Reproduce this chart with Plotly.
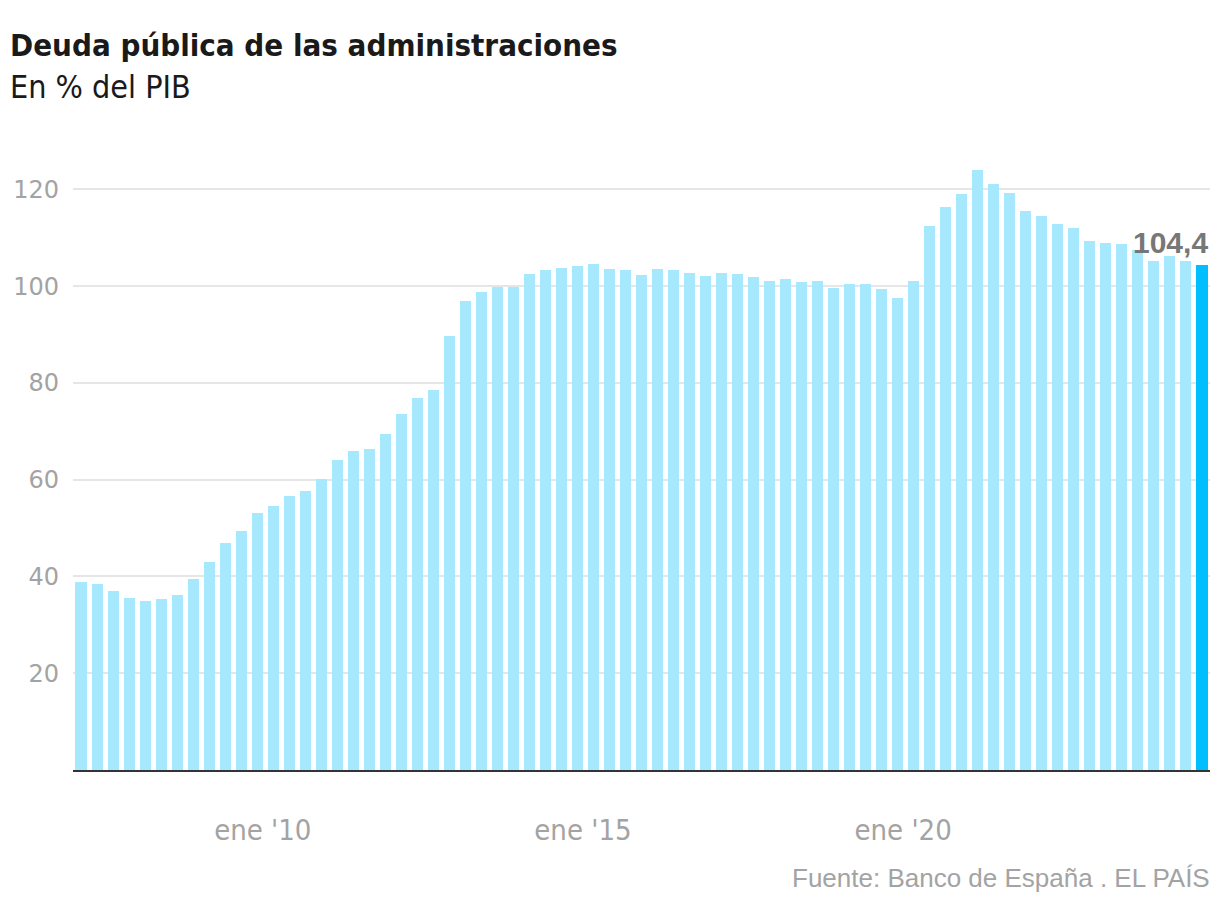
import plotly.graph_objects as go
import pandas as pd

# ---- data ----
start_quarter = "2007-03-01"
n_quarters = 71
debt_pct = [
    38.9, 38.5, 37.0, 35.6,
    35.0, 35.4, 36.2, 39.5,
    43.0, 47.0, 49.4, 53.2,
    54.6, 56.7, 57.7, 60.2,
    64.1, 66.0, 66.4, 69.5,
    73.6, 76.9, 78.6, 89.6,
    97.0, 98.7, 99.9, 99.9,
    102.6, 103.4, 103.8, 104.2,
    104.5, 103.6, 103.4, 102.4,
    103.6, 103.4, 102.8, 102.0,
    102.8, 102.6, 101.8, 101.1,
    101.5, 100.9, 101.1, 99.7,
    100.5, 100.5, 99.5, 97.6,
    101.1, 112.5, 116.4, 119.1,
    124.1, 121.2, 119.3, 115.6,
    114.6, 112.9, 112.1, 109.4,
    109.0, 108.8, 107.5, 105.1,
    106.3, 105.3, 104.4,
]
x_tick_dates = ["2010-01-01", "2015-01-01", "2020-01-01"]
x_tick_text = ["ene '10", "ene '15", "ene '20"]
y_tick_vals = [20, 40, 60, 80, 100, 120]

title_text = "Deuda pública de las administraciones"
subtitle_text = "En % del PIB"
source_text = "Fuente: Banco de España . EL PAÍS"

# ---- build ----
dates = pd.date_range(start_quarter, periods=n_quarters, freq="QS-MAR")
quarter_ms = 91.3 * 86400000
bar_width = quarter_ms * 0.69

light = "#a6e8fd"
strong = "#00bfff"
colors = [light] * (len(debt_pct) - 1) + [strong]

fig = go.Figure()
fig.add_trace(go.Bar(
    x=dates, y=debt_pct, marker=dict(color=colors, line=dict(width=0)),
    width=[bar_width] * len(debt_pct), hoverinfo="x+y",
))

half_q = pd.Timedelta(days=45.65)
x_range = [dates[0] - half_q, dates[-1] + half_q]

narrow = "DejaVu Sans Condensed, Liberation Sans Narrow, sans-serif"

fig.update_layout(
    width=1220, height=906,
    margin=dict(l=73, r=10, t=141, b=136),
    paper_bgcolor="white", plot_bgcolor="white",
    showlegend=False,
    bargap=0,
    xaxis=dict(
        type="date", range=x_range,
        tickvals=x_tick_dates, ticktext=x_tick_text,
        showgrid=False, zeroline=False,
        showline=True, linecolor="#333333", linewidth=2,
        ticks="", ticklabelstandoff=33,
        tickfont=dict(family=narrow, size=29, color="#a3a3a3"),
    ),
    yaxis=dict(
        range=[0, 130], tickvals=y_tick_vals,
        showgrid=True, gridcolor="#e6e6e6", gridwidth=2,
        zeroline=False, showline=False, ticks="",
        ticklabelstandoff=13,
        tickfont=dict(family="DejaVu Sans", size=24, color="#a3a3a3"),
    ),
)

last_label = f"{debt_pct[-1]:.1f}".replace(".", ",")
fig.add_annotation(
    x=dates[-1], y=debt_pct[-1], text=f"<b>{last_label}</b>",
    showarrow=False, xanchor="right", yanchor="bottom",
    xshift=8, yshift=4,
    font=dict(family="Liberation Sans, Arial, sans-serif", size=30, color="#777777"),
)

def py(p):
    return (770 - p) / 629.0

def px(p):
    return (p - 73) / 1137.0

fig.add_annotation(
    xref="paper", yref="paper", x=px(8), y=py(45), xanchor="left", yanchor="middle",
    text=f"<b>{title_text}</b>", showarrow=False,
    font=dict(family=narrow, size=31, color="#1a1a1a"),
)
fig.add_annotation(
    xref="paper", yref="paper", x=px(8), y=py(87), xanchor="left", yanchor="middle",
    text=subtitle_text, showarrow=False,
    font=dict(family=narrow, size=32, color="#1a1a1a"),
)
fig.add_annotation(
    xref="paper", yref="paper", x=px(1212), y=py(878), xanchor="right", yanchor="middle",
    text=source_text, showarrow=False,
    font=dict(family="Liberation Sans, Arial, sans-serif", size=26, color="#a3a3a3"),
)

fig.write_html("out.html", config={"displayModeBar": False},
               post_script="document.body.style.margin='0';")
